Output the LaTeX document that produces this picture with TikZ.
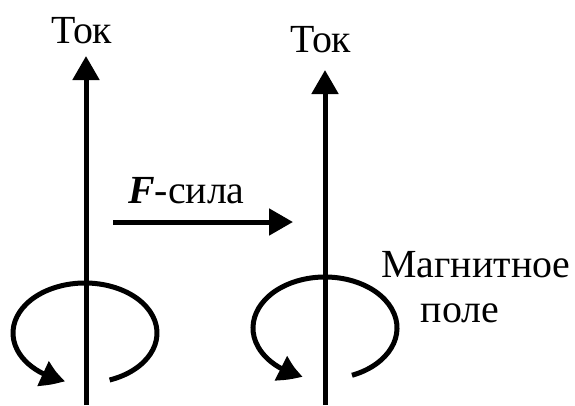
\documentclass[tikz,border=0pt]{standalone}
\usepackage{fontspec}
\setmainfont{Liberation Serif}
\usetikzlibrary{arrows.meta,bending}
\tikzset{
  lbl/.style={inner sep=0pt,anchor=base,font=\fontsize{40}{46}\selectfont},
  wire/.style={line width=5bp,-{Triangle[length=24bp,width=26bp]}},
  loop/.style={line width=5bp,-{Triangle[length=24bp,width=26bp,bend]}}
}
\begin{document}
\begin{tikzpicture}[x=1bp,y=1bp]
\useasboundingbox (0,0) rectangle (575,405);
% left wire
\coordinate (b1) at (86,0);
\coordinate (t1) at (86,349);
\node[lbl] (tok1) at (82,362) {Ток};
\draw[wire] (b1) -- (t1);
% right wire
\coordinate (b2) at (325,0);
\coordinate (t2) at (325,335);
\node[lbl] (tok2) at (321,353) {Ток};
\draw[wire] (b2) -- (t2);
% force
\coordinate (f1) at (113,183);
\coordinate (f2) at (293,183);
\node[lbl,anchor=base west] (force) at (128,202) {\textbf{\textit{F}}-сила};
\draw[wire] (f1) -- (f2);
% magnetic field loops
\draw[loop] (85,72) ++(-70:72 and 50) arc[start angle=-70,end angle=254,x radius=72,y radius=50];
\draw[loop] (325,77) ++(-68:72 and 51) arc[start angle=-68,end angle=252,x radius=72,y radius=51];
% label
\node[lbl] (mag1) at (476,128) {Магнитное};
\node[lbl] (mag2) at (460,83) {поле};
\end{tikzpicture}
\end{document}
